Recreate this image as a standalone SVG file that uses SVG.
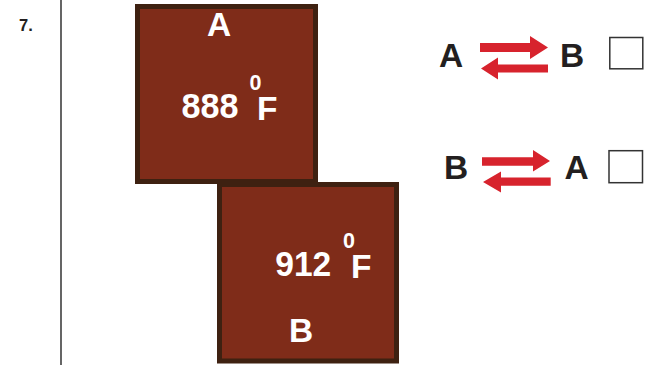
<svg xmlns="http://www.w3.org/2000/svg" width="655" height="365" viewBox="0 0 655 365">
<style>
.sq{fill:#7f2c19;stroke:#3e2111;stroke-width:5}
.w{fill:#ffffff;font-family:"Liberation Sans",Arial,sans-serif;font-weight:bold}
.k{fill:#231f20;font-family:"Liberation Sans",Arial,sans-serif;font-weight:bold;font-size:33.5px}
.arr{fill:#d7232d}
.box{fill:#ffffff;stroke:#333333;stroke-width:1.5}
</style>
<rect width="655" height="365" fill="#ffffff"/>
<text x="19" y="31" fill="#231f20" font-family="Liberation Sans, Arial, sans-serif" font-weight="bold" font-size="16.5">7.</text>
<line x1="61" y1="0" x2="61" y2="365" stroke="#555555" stroke-width="1.8"/>
<g id="nodeB">
<rect class="sq" x="219.5" y="184.5" width="177" height="176.5"/>
<text class="w" x="275.3" y="276" font-size="35" textLength="56" lengthAdjust="spacingAndGlyphs">912</text>
<text class="w" x="349" y="247.7" font-size="21.5" text-anchor="middle">0</text>
<text class="w" x="351" y="277.7" font-size="33.5">F</text>
<text class="w" x="301" y="341.7" font-size="33.5" text-anchor="middle">B</text>
</g>
<g id="nodeA">
<rect class="sq" x="137.5" y="6.5" width="178" height="175"/>
<text class="w" x="219" y="36" font-size="33.5" text-anchor="middle">A</text>
<text class="w" x="181.5" y="118" font-size="35" textLength="57" lengthAdjust="spacingAndGlyphs">888</text>
<text class="w" x="255.5" y="90" font-size="21.5" text-anchor="middle">0</text>
<text class="w" x="257" y="120" font-size="33.5">F</text>
</g>
<g id="option1">
<text class="k" x="451" y="66.7" text-anchor="middle">A</text>
<text class="k" x="572.2" y="66.7" text-anchor="middle">B</text>
<rect class="box" x="609.8" y="37.5" width="33" height="31.3"/>
</g>
<g id="option2">
<text class="k" x="456" y="179.3" text-anchor="middle">B</text>
<text class="k" x="576.5" y="179.3" text-anchor="middle">A</text>
<rect class="box" x="609" y="150.7" width="33.5" height="32"/>
</g>
<g id="connectors">
<path class="arr" d="M480,43 H530 V36 L548,47.5 L530,59 V52 H480 Z"/>
<path class="arr" d="M548,64.5 H498 V57.5 L481,68.5 L498,79.5 V72.5 H548 Z"/>
<path class="arr" d="M482,157.3 H533 V150 L550,161 L533,171.5 V165.7 H482 Z"/>
<path class="arr" d="M550.7,177.5 H501 V171.5 L483,182 L501,192.5 V185.7 H550.7 Z"/>
</g>
</svg>
